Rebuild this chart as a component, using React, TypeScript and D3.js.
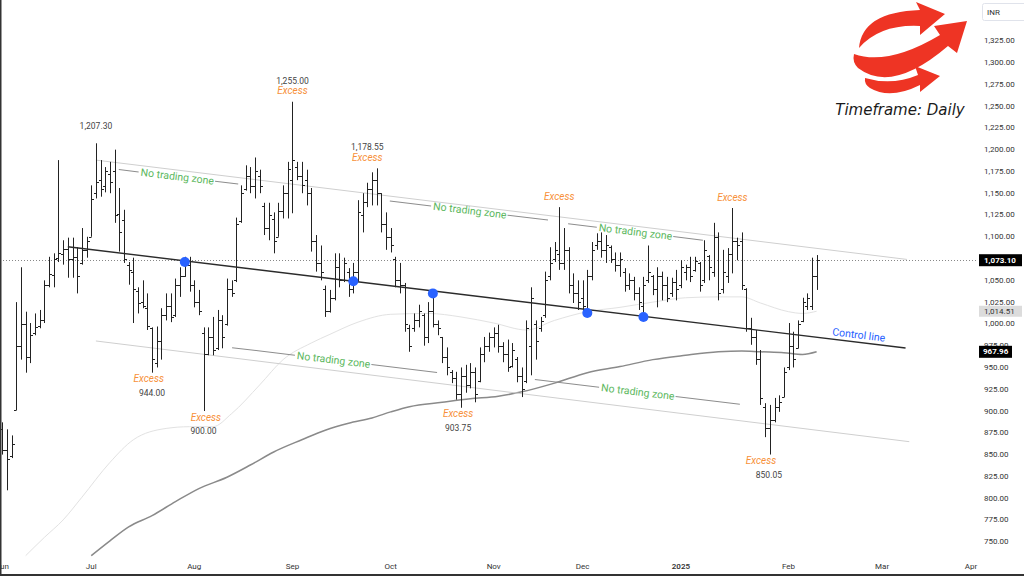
import React from "react";
import * as d3 from "d3";

const width = 1024;
const height = 576;

// daily OHLC bars [open, high, low, close], one per session, Jun 3 2024 -> Feb 10 2025
const bars: number[][] = [
  [879, 887, 850, 855], [855, 879, 809, 845], [848, 872, 846, 862], [901, 1025, 901, 975],
  [975, 1065, 959, 1000], [1000, 1014, 944, 962], [962, 1001, 955, 987], [990, 1012, 987, 996],
  [998, 1016, 995, 1005], [1005, 1050, 1001, 1045], [1045, 1077, 1042, 1057], [1056, 1081, 1042, 1075],
  [1076, 1188, 1071, 1081], [1080, 1096, 1068, 1086], [1086, 1099, 1053, 1074], [1075, 1099, 1053, 1077],
  [1077, 1088, 1035, 1055], [1070, 1110, 1068, 1085], [1085, 1100, 1076, 1095], [1100, 1159, 1100, 1143],
  [1150, 1207.3, 1144, 1163], [1165, 1188, 1146, 1155], [1158, 1180, 1151, 1175], [1172, 1186, 1150, 1163],
  [1175, 1200, 1116, 1125], [1126, 1156, 1083, 1105], [1119, 1131, 1070, 1075], [1068, 1071, 1045, 1062],
  [1060, 1076, 1001, 1040], [1038, 1042, 1012, 1024], [1025, 1050, 1018, 1020], [1018, 1035, 993, 998],
  [995, 996, 944, 960], [955, 997, 950, 980], [980, 1018, 959, 1010], [1010, 1035, 1004, 1020],
  [1020, 1035, 1002, 1008], [1010, 1052, 1008, 1045], [1045, 1065, 1031, 1055], [1055, 1077, 1054, 1068],
  [1068, 1077, 1037, 1045], [1045, 1050, 1019, 1025], [1025, 1039, 1010, 1015], [990, 996, 900, 965],
  [965, 996, 964, 985], [985, 1008, 964, 970], [972, 1016, 970, 1005], [1005, 1010, 972, 985],
  [1000, 1052, 998, 1040], [1040, 1050, 1031, 1035], [1050, 1122, 1048, 1115], [1118, 1159, 1116, 1150],
  [1155, 1182, 1153, 1170], [1170, 1180, 1150, 1158], [1158, 1191, 1144, 1175], [1170, 1177, 1150, 1158],
  [1135, 1139, 1102, 1110], [1110, 1139, 1096, 1125], [1120, 1128, 1081, 1095], [1100, 1139, 1100, 1130],
  [1130, 1159, 1121, 1150], [1150, 1186, 1121, 1178], [1165, 1255, 1127, 1188], [1180, 1186, 1165, 1170],
  [1170, 1186, 1150, 1160], [1165, 1177, 1136, 1150], [1150, 1156, 1083, 1095], [1095, 1102, 1060, 1070],
  [1070, 1090, 1050, 1060], [1040, 1044, 1008, 1015], [1015, 1039, 1013, 1030], [1030, 1081, 1027, 1065],
  [1065, 1081, 1042, 1050], [1050, 1076, 1048, 1070], [1060, 1064, 1031, 1040], [1040, 1070, 1035, 1060],
  [1060, 1142, 1048, 1128], [1125, 1150, 1105, 1140], [1140, 1162, 1134, 1155], [1155, 1174, 1136, 1165],
  [1165, 1178.55, 1136, 1150], [1150, 1150, 1105, 1115], [1115, 1128, 1085, 1100], [1100, 1110, 1082, 1090],
  [1075, 1077, 1042, 1050], [1050, 1070, 1035, 1045], [1045, 1047, 991, 1000], [995, 999, 968, 975],
  [995, 1012, 991, 1005], [1005, 1022, 996, 1015], [1010, 1012, 975, 985], [985, 1025, 978, 1015],
  [1015, 1033, 996, 1000], [1000, 1004, 987, 995], [985, 985, 955, 962], [962, 973, 941, 950],
  [945, 947, 932, 938], [938, 945, 913, 920], [920, 950, 903.75, 940], [940, 953, 921, 930],
  [930, 955, 926, 945], [945, 950, 910, 920], [935, 973, 933, 965], [965, 985, 956, 975],
  [975, 990, 968, 985], [985, 996, 973, 990], [990, 999, 967, 975], [975, 979, 956, 965],
  [965, 982, 945, 950], [952, 978, 950, 970], [960, 962, 933, 940], [940, 950, 916, 925],
  [935, 1004, 932, 995], [975, 1042, 941, 1030], [1000, 1004, 959, 980], [995, 1008, 991, 1003],
  [1010, 1060, 1007, 1050], [1055, 1088, 1050, 1070], [1075, 1094, 1071, 1085], [1080, 1134, 1062, 1070],
  [1070, 1110, 1062, 1085], [1085, 1088, 1035, 1045], [1045, 1058, 1024, 1035], [1035, 1050, 1016, 1025],
  [1030, 1050, 1012, 1020], [1015, 1062, 1014, 1055], [1055, 1094, 1050, 1085], [1090, 1104, 1085, 1095],
  [1095, 1105, 1076, 1085], [1085, 1102, 1070, 1090], [1088, 1090, 1070, 1075], [1075, 1082, 1060, 1068],
  [1068, 1082, 1054, 1075], [1060, 1064, 1037, 1045], [1045, 1058, 1039, 1050], [1050, 1054, 1027, 1035],
  [1035, 1042, 1016, 1025], [1020, 1054, 1010, 1045], [1050, 1090, 1047, 1060], [1055, 1056, 1033, 1040],
  [1040, 1065, 1019, 1055], [1055, 1060, 1027, 1045], [1045, 1054, 1025, 1030], [1035, 1053, 1031, 1048],
  [1048, 1062, 1027, 1040], [1045, 1073, 1041, 1065], [1060, 1068, 1050, 1065], [1065, 1077, 1048, 1055],
  [1062, 1077, 1060, 1072], [1070, 1071, 1037, 1045], [1050, 1096, 1047, 1085], [1078, 1079, 1050, 1065],
  [1060, 1116, 1054, 1100], [1100, 1105, 1027, 1035], [1040, 1085, 1035, 1060], [1055, 1087, 1047, 1080],
  [1080, 1133, 1058, 1095], [1095, 1099, 1073, 1090], [1095, 1105, 1039, 1045], [1040, 1041, 991, 995],
  [995, 1007, 976, 985], [985, 993, 953, 960], [960, 970, 907, 915], [905, 909, 870, 880],
  [880, 907, 850.05, 890], [890, 915, 887, 905], [905, 918, 899, 910], [916, 950, 916, 945],
  [950, 1001, 947, 975], [975, 991, 950, 960], [972, 1004, 972, 1000], [1003, 1030, 1002, 1025],
  [1020, 1035, 1016, 1030], [1020, 1076, 1016, 1055], [1055, 1079, 1039, 1073.1],
];

// time axis: first session of each month (bar index)
const monthLabels = ["Jun", "Jul", "Aug", "Sep", "Oct", "Nov", "Dec", "2025", "Feb", "Mar", "Apr"];
const monthStarts = [0, 19, 41, 62, 83, 105, 124, 145, 168, 188, 207];

const priceTicks = [
  750, 775, 800, 825, 850, 875, 900, 925, 950, 975, 1000, 1025, 1050,
  1100, 1125, 1150, 1175, 1200, 1225, 1250, 1275, 1300, 1325,
];

// moving averages, [bar index, value]
const slowMa = [
  [19, 734], [23, 751], [27, 767], [32, 780], [37, 796], [42, 811], [48, 824], [53, 838],
  [58, 853], [64, 867], [69, 878], [74, 886], [79, 892], [83, 899], [87, 905], [94, 910],
  [100, 914], [106, 917], [111, 922], [118, 932], [125, 944], [132, 951], [139, 959],
  [146, 964], [153, 968], [158, 969], [162, 968], [167, 967], [171, 965], [174, 967.96],
];
const fastMa = [
  [5, 734], [9, 755], [13, 775], [17, 801], [23, 841], [28, 867], [35, 880], [40, 882],
  [45, 882], [49, 897], [55, 930], [60, 959], [66, 978], [70, 988], [76, 1002], [83, 1011],
  [91, 1012], [98, 1008], [105, 1001], [112, 993], [118, 1004], [125, 1014], [132, 1019],
  [139, 1025], [146, 1030], [153, 1031], [158, 1031], [162, 1024], [168, 1014], [171, 1012],
  [174, 1014.51],
];

const lastClose = 1073.1;
const fastLast = 1014.51;
const slowLast = 967.96;

// drawn lines, [bar index, price]
const controlLine = [[14, 1088.6], [193, 972.3]];
const upperChannel = [[20, 1188], [193.3, 1074]];
const lowerChannel = [[20, 980.4], [193.8, 864.8]];

const touchIdx = [39, 75, 92, 125, 137];
const touchVal = [1071, 1049, 1035, 1012.5, 1008];

// "No trading zone" notes: centre [index, price], leader from / to index
const zoneCentre = [[37.4, 1169], [99.9, 1130], [135.3, 1105.5], [70.8, 958.6], [135.8, 921.8]];
const zoneFrom = [24.9, 82.8, 120.9, 49.1, 113.8];
const zoneTo = [50.4, 116.6, 149.7, 92.9, 157.6];
const controlNote = [183, 987.3];

// swing highs / lows with labels
const highMarks = [
  { v: 1207.3, num: 20, ex: null },
  { v: 1255, num: 62, ex: 62 },
  { v: 1178.55, num: 78, ex: 78 },
  { v: 1134, num: null, ex: 119 },
  { v: 1133, num: null, ex: 156 },
];
const lowMarks = [
  { v: 944, num: 32, ex: 31.3 },
  { v: 900, num: 43, ex: 43.5 },
  { v: 903.75, num: 97.4, ex: 97.4 },
  { v: 850.05, num: 163.8, ex: 162.1 },
];

const font = "Roboto, 'Liberation Sans', sans-serif";

export default function App() {
  const x = d3.scaleLinear().domain([0, 207]).range([2.3, 2.3 + 207 * 4.68]);
  const y = d3.scaleLinear().domain([750, 1325]).range([541.7, 40.75]);
  const fmt = d3.format(",.2f");
  const px = (i: number) => Math.round(x(i)) + 0.5;
  const py = (v: number) => Math.round(y(v)) + 0.5;

  const barPath = bars
    .map(([o, h, l, c], i) => {
      const cx = px(i);
      return `M${cx},${y(h)}V${y(l)}M${cx - 2.5},${py(o)}H${cx}M${cx},${py(c)}H${cx + 2.5}`;
    })
    .join("");

  const maLine = d3
    .line<number[]>()
    .x((d) => x(d[0]))
    .y((d) => y(d[1]))
    .curve(d3.curveMonotoneX);
  const straight = d3
    .line<number[]>()
    .x((d) => x(d[0]))
    .y((d) => y(d[1]));

  const ang = Math.atan2(
    y(controlLine[1][1]) - y(controlLine[0][1]),
    x(controlLine[1][0]) - x(controlLine[0][0])
  );
  const deg = (ang * 180) / Math.PI;

  return (
    <svg width={width} height={height} style={{ display: "block", background: "#fff" }}>
      <style>{`body{margin:0}`}</style>
      <defs>
        <clipPath id="plot">
          <rect x={0} y={0} width={978} height={557} />
        </clipPath>
      </defs>

      <g clipPath="url(#plot)">
        <line x1={0} x2={978} y1={py(lastClose)} y2={py(lastClose)} stroke="#888" strokeDasharray="1,2" />
        <path d={maLine(fastMa) ?? ""} fill="none" stroke="#e2e2e2" strokeWidth={1} />
        <path d={maLine(slowMa) ?? ""} fill="none" stroke="#8a8a8a" strokeWidth={1.5} />
        <path d={straight(upperChannel) ?? ""} fill="none" stroke="#cfcfcf" strokeWidth={1} />
        <path d={straight(lowerChannel) ?? ""} fill="none" stroke="#cfcfcf" strokeWidth={1} />
        <path d={barPath} fill="none" stroke="#222" strokeWidth={1} />
        <path d={straight(controlLine) ?? ""} fill="none" stroke="#2b2b2b" strokeWidth={1.4} />
        {touchIdx.map((t, k) => (
          <circle key={k} cx={x(t)} cy={y(touchVal[k])} r={5} fill="#2962ff" />
        ))}

        {zoneCentre.map((c, k) => {
          const cx = x(c[0]);
          const cy = y(c[1]);
          const t1 = (x(zoneFrom[k]) - cx) / Math.cos(ang);
          const t2 = (x(zoneTo[k]) - cx) / Math.cos(ang);
          return (
            <g key={k} transform={`translate(${cx},${cy}) rotate(${deg})`}>
              <line x1={t1} x2={-39} y1={0} y2={0} stroke="#8d8d8d" strokeWidth={1} />
              <line x1={38} x2={t2} y1={0} y2={0} stroke="#8d8d8d" strokeWidth={1} />
              <text textAnchor="middle" dominantBaseline="central" fontFamily={font} fontSize={10.5} fill="#5cb860">
                No trading zone
              </text>
            </g>
          );
        })}

        <text
          transform={`translate(${x(controlNote[0])},${y(controlNote[1])}) rotate(${deg})`}
          textAnchor="middle"
          dominantBaseline="central"
          fontFamily={font}
          fontSize={10.5}
          fill="#2962ff"
        >
          Control line
        </text>

        {highMarks.map((m, k) => (
          <g key={k} fontFamily={font} textAnchor="middle" dominantBaseline="central">
            {m.ex !== null && (
              <text x={x(m.ex)} y={y(m.v) - 11} fontSize={10} fontStyle="italic" fill="#f7913a">
                Excess
              </text>
            )}
            {m.num !== null && (
              <text x={x(m.num)} y={y(m.v) - (m.ex !== null ? 21 : 17)} fontSize={8.5} fill="#444">
                {fmt(m.v)}
              </text>
            )}
          </g>
        ))}
        {lowMarks.map((m, k) => (
          <g key={k} fontFamily={font} textAnchor="middle" dominantBaseline="central">
            <text x={x(m.ex)} y={y(m.v) + 6} fontSize={10} fontStyle="italic" fill="#f7913a">
              Excess
            </text>
            <text x={x(m.num)} y={y(m.v) + 20} fontSize={8.5} fill="#444">
              {fmt(m.v)}
            </text>
          </g>
        ))}
      </g>

      {/* price scale */}
      <g fontFamily={font} fontSize={8} fill="#333" dominantBaseline="central">
        {priceTicks.map((t) => (
          <text key={t} x={984} y={y(t)}>
            {fmt(t)}
          </text>
        ))}
        <rect x={979} y={y(fastLast) - 5.5} width={43} height={11} fill="#dcdcdc" />
        <text x={984} y={y(fastLast)} fill="#333">
          {fmt(fastLast)}
        </text>
        <rect x={979} y={y(lastClose) - 6} width={43} height={12} fill="#000" />
        <text x={984} y={y(lastClose)} fill="#fff" fontWeight="bold">
          {fmt(lastClose)}
        </text>
        <rect x={979} y={y(slowLast) - 6} width={33} height={12} fill="#000" />
        <text x={983} y={y(slowLast)} fill="#fff" fontWeight="bold">
          {fmt(slowLast)}
        </text>
        <rect x={982.5} y={3.5} width={44} height={17} rx={2} fill="none" stroke="#e0e3eb" />
        <text x={987} y={12}>INR</text>
      </g>

      {/* time scale */}
      <g fontFamily={font} fontSize={8} fill="#333" textAnchor="middle" dominantBaseline="central">
        {monthLabels.map((m, k) => (
          <text key={m} x={x(monthStarts[k])} y={566} fontWeight={m === "2025" ? 600 : 400}>
            {m}
          </text>
        ))}
      </g>

      {/* logo and timeframe */}
      <g fill="#ee3424">
        <path d="M859,48 Q862,12 920,10 L916,2 L945,14 L920,35 L920,26 Q880,24 859,48 Z" />
        <path d="M854,54 Q888,66 940,35 L934,26 L967,21 L957,53 L948,46 Q892,94 858,68 Q852,62 854,54 Z" />
        <path d="M865,78 Q892,86 918,75 L915,66 L940,76 L920,92 L920,85 Q890,100 870,88 Q864,84 865,78 Z" />
      </g>
      <text
        x={900}
        y={110}
        textAnchor="middle"
        dominantBaseline="central"
        fontFamily="'DejaVu Sans', sans-serif"
        fontStyle="italic"
        fontSize={15}
        fill="#1a1a1a"
      >
        Timeframe: Daily
      </text>

      <line x1={0.75} x2={0.75} y1={0} y2={height} stroke="#333" strokeWidth={1.5} />
      <line x1={0} x2={width} y1={575} y2={575} stroke="#333" strokeWidth={2} />
    </svg>
  );
}
